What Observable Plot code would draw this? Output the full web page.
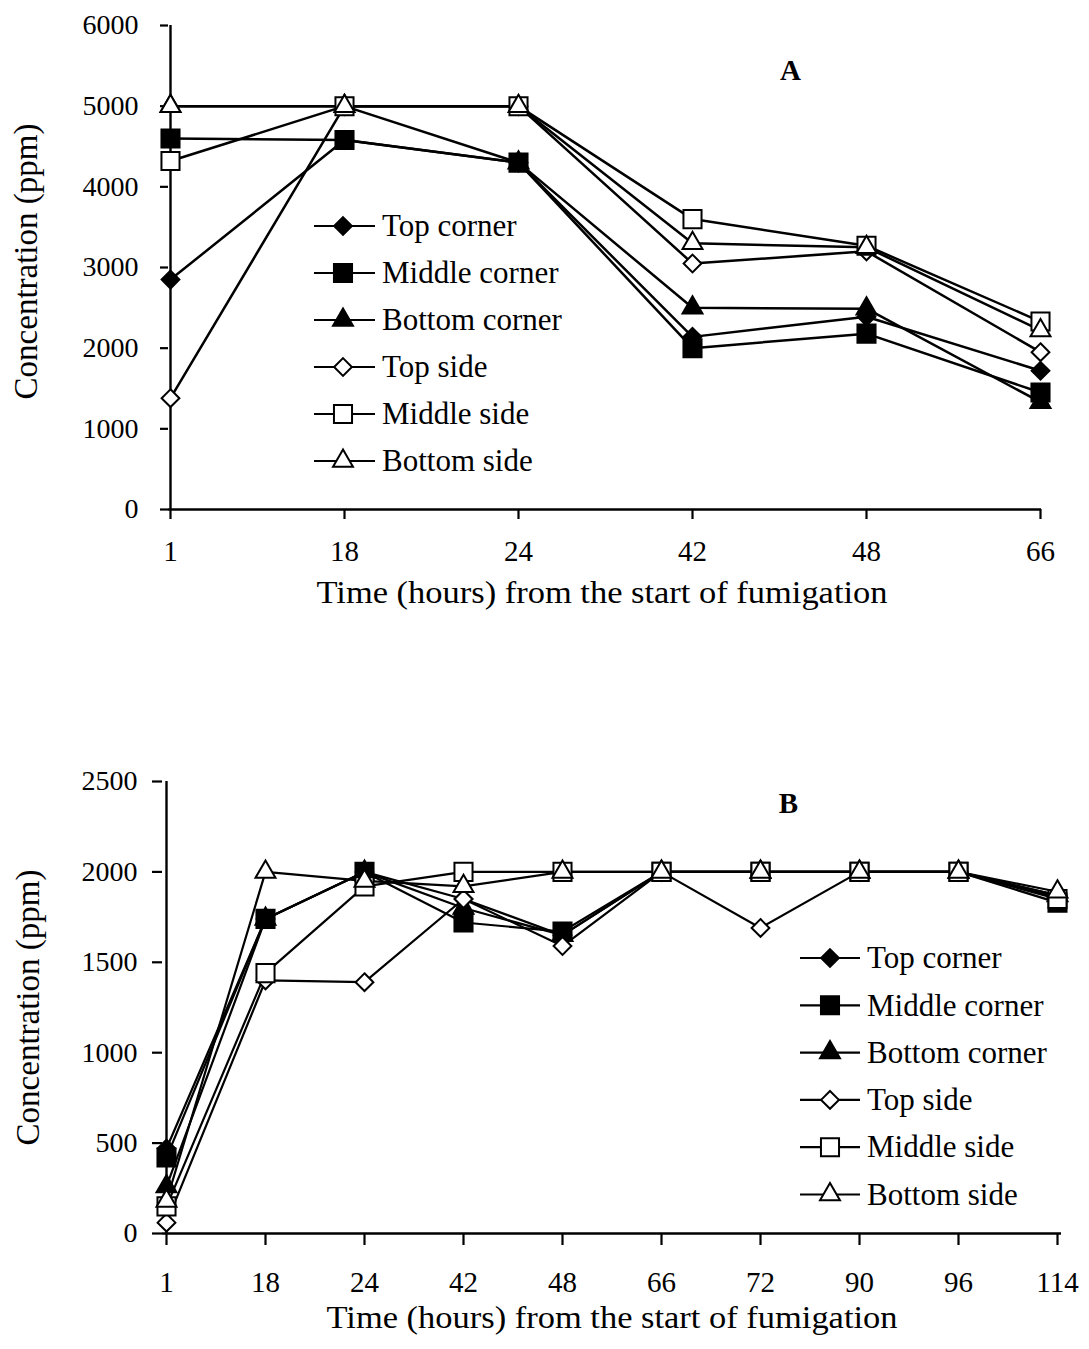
<!DOCTYPE html>
<html><head><meta charset="utf-8">
<script src="https://cdn.jsdelivr.net/npm/d3@7"></script>
<script src="https://cdn.jsdelivr.net/npm/@observablehq/plot@0.6"></script>
<style>
body{margin:0;background:#fff;}
#chart{width:1089px;height:1349px;overflow:hidden;}
svg{display:block;}
</style>
</head><body><div id="chart"></div>
<script>
// ---------- data ----------
const seriesNames = ["Top corner","Middle corner","Bottom corner","Top side","Middle side","Bottom side"];

const timesA = ["1","18","24","42","48","66"];
const topCornerA    = [2850, 4580, 4300, 2140, 2390, 1720];
const middleCornerA = [4600, 4580, 4300, 2000, 2180, 1450];
const bottomCornerA = [5000, 5000, 4300, 2500, 2490, 1330];
const topSideA      = [1380, 5000, 5000, 3050, 3200, 1950];
const middleSideA   = [4320, 5000, 5000, 3600, 3270, 2330];
const bottomSideA   = [5000, 5000, 5000, 3300, 3250, 2220];
const yTicksA = [0, 1000, 2000, 3000, 4000, 5000, 6000];

const timesB = ["1","18","24","42","48","66","72","90","96","114"];
const topCornerB    = [470, 1740, 2000, 1850, 1650, 2000, 2000, 2000, 2000, 1860];
const middleCornerB = [420, 1740, 2000, 1720, 1670, 2000, 2000, 2000, 2000, 1830];
const bottomCornerB = [260, 1740, 2000, 1800, 1650, 2000, 2000, 2000, 2000, 1870];
const topSideB      = [60, 1400, 1390, 1850, 1590, 2000, 1690, 2000, 2000, 1870];
const middleSideB   = [150, 1440, 1920, 2000, 2000, 2000, 2000, 2000, 2000, 1850];
const bottomSideB   = [180, 2000, 1950, 1920, 2000, 2000, 2000, 2000, 2000, 1890];
const yTicksB = [0, 500, 1000, 1500, 2000, 2500];

const xLabel = "Time (hours) from the start of fumigation";
const yLabel = "Concentration (ppm)";

// ---------- styles ----------
const FONT = "'Liberation Serif', 'Times New Roman', Times, serif";
const markerStyles = [
  {symbol: "diamond2", d3sym: d3.symbolDiamond2, fill: "black", r: 8.0},
  {symbol: "square",   d3sym: d3.symbolSquare,   fill: "black", r: 10.2},
  {symbol: "triangle", d3sym: d3.symbolTriangle, fill: "black", r: 7.4},
  {symbol: "diamond2", d3sym: d3.symbolDiamond2, fill: "white", r: 8.0},
  {symbol: "square",   d3sym: d3.symbolSquare,   fill: "white", r: 10.2},
  {symbol: "triangle", d3sym: d3.symbolTriangle, fill: "white", r: 7.4}
];

function toRows(times, arrays) {
  const rows = [];
  arrays.forEach((vals, s) => {
    vals.forEach((v, i) => rows.push({series: seriesNames[s], s, time: times[i], value: v}));
  });
  return rows;
}

function panel(cfg) {
  const rows = toRows(cfg.times, cfg.series);
  const marks = [
    Plot.axisY({ticks: cfg.yTicks, tickFormat: "d", tickSize: cfg.yTickSize, tickPadding: cfg.yTickPadding,
                fontSize: 28, strokeWidth: 2.2, label: null}),
    Plot.axisX({tickSize: cfg.xTickSize, tickPadding: cfg.xTickPadding, fontSize: 29, strokeWidth: 2.2, label: null}),
    Plot.ruleX([cfg.times[0]], {stroke: "black", strokeWidth: 2.4}),
    Plot.ruleY([0], {stroke: "black", strokeWidth: 2.4}),
    Plot.line(rows, {x: "time", y: "value", z: "series", stroke: "black", strokeWidth: cfg.lineWidth})
  ];
  markerStyles.forEach((st, s) => {
    marks.push(Plot.dot(rows.filter(d => d.s === s), {
      x: "time", y: "value", symbol: () => st.symbol, r: st.r,
      fill: st.fill, stroke: "black", strokeWidth: 2
    }));
  });
  marks.push(
    Plot.text([xLabel], {frameAnchor: "bottom", dx: cfg.xLabelDx, dy: cfg.xLabelDy, fontSize: 32,
                         textAnchor: "middle", lineAnchor: "middle"}),
    Plot.text([yLabel], {frameAnchor: "left", dx: cfg.yLabelDx, dy: cfg.yLabelDy, rotate: -90, fontSize: 33,
                         textAnchor: "middle", lineAnchor: "middle"}),
    Plot.text([cfg.letter], {frameAnchor: "top-left", dx: cfg.letterDx, dy: cfg.letterDy, fontSize: 29,
                             fontWeight: "bold", textAnchor: "middle", lineAnchor: "middle"})
  );
  const svg = Plot.plot({
    width: 1089, height: cfg.height,
    marginTop: cfg.mt, marginBottom: cfg.mb, marginLeft: cfg.ml, marginRight: cfg.mr,
    style: {fontFamily: FONT, background: "white", color: "black", overflow: "visible"},
    x: {type: "point", domain: cfg.times, padding: 0},
    y: {domain: cfg.yDomain},
    marks
  });
  // stretch x label to the reference's width
  d3.select(svg).selectAll("text").filter(function() { return this.textContent === xLabel; })
    .attr("textLength", 571).attr("lengthAdjust", "spacingAndGlyphs");
  // legend
  const g = d3.select(svg).append("g").attr("font-family", FONT).attr("font-size", 31)
    .attr("fill", "black").attr("text-anchor", "start");
  seriesNames.forEach((name, i) => {
    const st = markerStyles[i];
    const cy = cfg.legend.y + i * cfg.legend.step;
    g.append("line").attr("x1", cfg.legend.x1).attr("x2", cfg.legend.x2)
      .attr("y1", cy).attr("y2", cy).attr("stroke", "black").attr("stroke-width", 2.2);
    g.append("path").attr("transform", `translate(${cfg.legend.mx},${cy})`)
      .attr("d", d3.symbol(st.d3sym, Math.PI * st.r * st.r)())
      .attr("fill", st.fill).attr("stroke", "black").attr("stroke-width", 2);
    g.append("text").attr("x", cfg.legend.tx).attr("y", cy).attr("dy", "0.33em")
      .attr("text-anchor", "start").text(name);
  });
  return svg;
}

const chart = document.getElementById("chart");
chart.appendChild(panel({
  times: timesA,
  series: [topCornerA, middleCornerA, bottomCornerA, topSideA, middleSideA, bottomSideA],
  yDomain: [0, 6000], yTicks: yTicksA,
  height: 650, mt: 25, mb: 141, ml: 168, mr: 48,
  yTickSize: 8, yTickPadding: 22, xTickSize: 10, xTickPadding: 21,
  lineWidth: 2.5,
  xLabelDx: -3, xLabelDy: 83, yLabelDx: -142, yLabelDy: -6,
  letter: "A", letterDx: 790 - 168, letterDy: 70 - 25,
  legend: {y: 226, step: 47, x1: 314, x2: 375, mx: 343, tx: 382}
}));
chart.appendChild(panel({
  times: timesB,
  series: [topCornerB, middleCornerB, bottomCornerB, topSideB, middleSideB, bottomSideB],
  yDomain: [0, 2500], yTicks: yTicksB,
  height: 699, mt: 131, mb: 116, ml: 162, mr: 28,
  yTickSize: 10, yTickPadding: 15, xTickSize: 12, xTickPadding: 26,
  lineWidth: 2.2,
  xLabelDx: 0, xLabelDy: 84, yLabelDx: -134, yLabelDy: 0,
  letter: "B", letterDx: 788 - 162, letterDy: 803 - 781,
  legend: {y: 958 - 650, step: 47.3, x1: 800, x2: 860, mx: 830, tx: 867}
}));
</script>
</body></html>
